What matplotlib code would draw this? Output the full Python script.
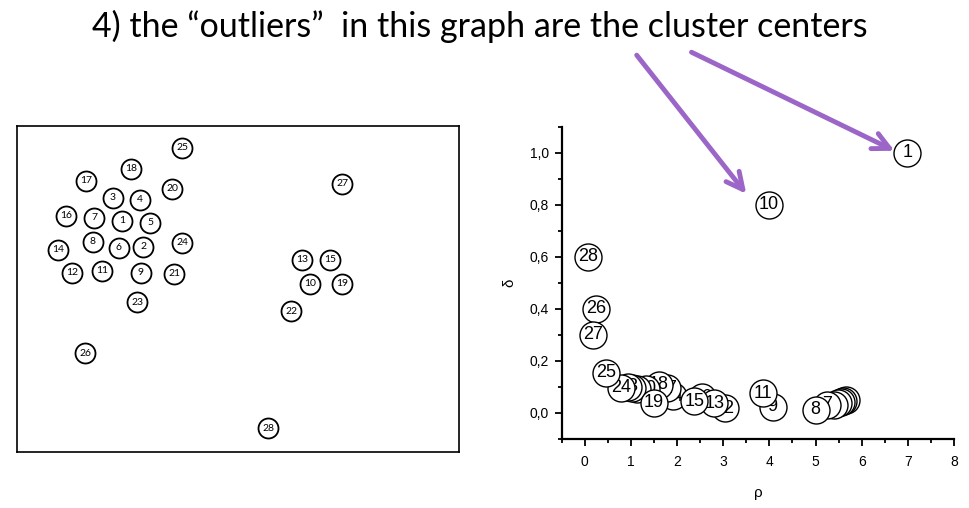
import matplotlib
matplotlib.use("Agg")
import matplotlib.pyplot as plt
from matplotlib.ticker import MultipleLocator, FixedLocator, FixedFormatter

# ---------------- data ----------------
title = "4) the \u201coutliers\u201d  in this graph are the cluster centers"

# left panel: 2D point positions (arbitrary units)
pt_labels = [25, 18, 17, 20, 3, 4, 16, 7, 1, 5, 24, 14, 8, 6, 2, 12, 11, 9, 21, 23,
             26, 27, 13, 15, 10, 19, 22, 28]
pt_x = [165, 114, 69, 155, 96, 123, 49, 77, 105, 133, 165, 41, 76, 102, 126, 55, 85, 124, 157, 120,
        68, 325, 285, 313, 293, 325, 274, 251]
pt_y = [305, 284, 272, 264, 255, 253, 237, 235, 232, 230, 210, 203, 211, 205, 206, 180, 182, 180, 179, 150,
        99, 269, 193, 193, 169, 169, 141, 24]

# right panel: decision graph (rho, delta), listed in drawing order
dg_labels = [1, 2, 3, 4, 5, 6, 7, 8, 9, 10, 11, 12, 16, 13, 14, 15,
             17, 18, 20, 21, 22, 23, 24, 19, 25, 26, 27, 28]
dg_rho = [6.99, 5.65, 5.60, 5.55, 5.48, 5.40, 5.25, 5.00, 4.07, 3.99, 3.87, 3.03, 2.55, 2.81, 1.92, 2.37,
          1.79, 1.60, 1.33, 1.14, 1.02, 0.93, 0.78, 1.50, 0.46, 0.25, 0.18, 0.065]
dg_delta = [1.00, 0.050, 0.045, 0.040, 0.035, 0.030, 0.030, 0.010, 0.022, 0.80, 0.075, 0.017, 0.058, 0.036, 0.062, 0.043,
            0.094, 0.107, 0.092, 0.090, 0.095, 0.100, 0.095, 0.038, 0.153, 0.40, 0.30, 0.60]

xticks = [0, 1, 2, 3, 4, 5, 6, 7, 8]
yticks = [0.0, 0.2, 0.4, 0.6, 0.8, 1.0]
ytick_labels = ["0,0", "0,2", "0,4", "0,6", "0,8", "1,0"]

W, H = 970, 508
fig = plt.figure(figsize=(W / 100, H / 100), dpi=100)
fig.patch.set_facecolor("white")

# title
fig.text(480 / W, 1 - 26 / H, title, ha="center", va="center",
         fontsize=24.5, family=["Lato", "DejaVu Sans"], color="black")

# ---------------- left panel ----------------
axL = fig.add_axes([17 / W, (H - 452.3) / H, 442 / W, 326.6 / H])
axL.set_xlim(0, 442)
axL.set_ylim(0, 327)
axL.set_xticks([])
axL.set_yticks([])
for s in axL.spines.values():
    s.set_linewidth(1.2)
    s.set_color("black")
axL.scatter(pt_x, pt_y, s=(20 * 0.72) ** 2, facecolor="white", edgecolor="black",
            linewidth=1.3, zorder=2)
for lab, x, y in zip(pt_labels, pt_x, pt_y):
    axL.text(x, y, str(lab), ha="center", va="center", fontsize=7.5,
             family=["Lato", "DejaVu Sans"], zorder=3)

# ---------------- right panel ----------------
axR = fig.add_axes([561.7 / W, (H - 438.5) / H, (954 - 561.7) / W, (438.5 - 127) / H])
axR.set_xlim(-0.5, 8)
axR.set_ylim(-0.1, 1.1)
for side in ("top", "right"):
    axR.spines[side].set_visible(False)
for side in ("left", "bottom"):
    axR.spines[side].set_linewidth(1.6)
axR.xaxis.set_major_locator(FixedLocator(xticks))
axR.xaxis.set_minor_locator(MultipleLocator(0.5))
axR.yaxis.set_major_locator(FixedLocator(yticks))
axR.yaxis.set_major_formatter(FixedFormatter(ytick_labels))
axR.yaxis.set_minor_locator(MultipleLocator(0.1))
axR.tick_params(which="major", direction="out", length=5, width=1.3, labelsize=10)
axR.tick_params(which="minor", direction="out", length=3, width=1.3)
axR.tick_params(axis="x", which="major", pad=7)
axR.tick_params(axis="y", which="major", pad=4)
for t in axR.get_xticklabels() + axR.get_yticklabels():
    t.set_family("Liberation Sans")
axR.set_xlabel("\u03c1", fontsize=11, family="Liberation Sans", labelpad=12)
axR.set_ylabel("\u03b4", fontsize=11, family="Liberation Sans", labelpad=10)

for i, (lab, x, y) in enumerate(zip(dg_labels, dg_rho, dg_delta)):
    axR.scatter([x], [y], s=(27 * 0.72) ** 2, facecolor="white", edgecolor="black",
                linewidth=1.0, zorder=3 + 2 * i, clip_on=False)
    axR.text(x, y, str(lab), ha="center", va="center", fontsize=13,
             family="Liberation Sans", zorder=4 + 2 * i)

# ---------------- arrows ----------------
arrow_color = "#9B66C8"
for (x0, y0), (x1, y1) in [((635, 53), (748, 196)), ((689, 51), (897, 152))]:
    fig.patches.append(matplotlib.patches.FancyArrowPatch(
        (x0 / W, 1 - y0 / H), (x1 / W, 1 - y1 / H), transform=fig.transFigure,
        arrowstyle="->,head_length=12,head_width=6", mutation_scale=1,
        color=arrow_color, linewidth=3.5, capstyle="round", joinstyle="round",
        zorder=50))

fig.savefig("out.png", dpi=100, facecolor="white")
